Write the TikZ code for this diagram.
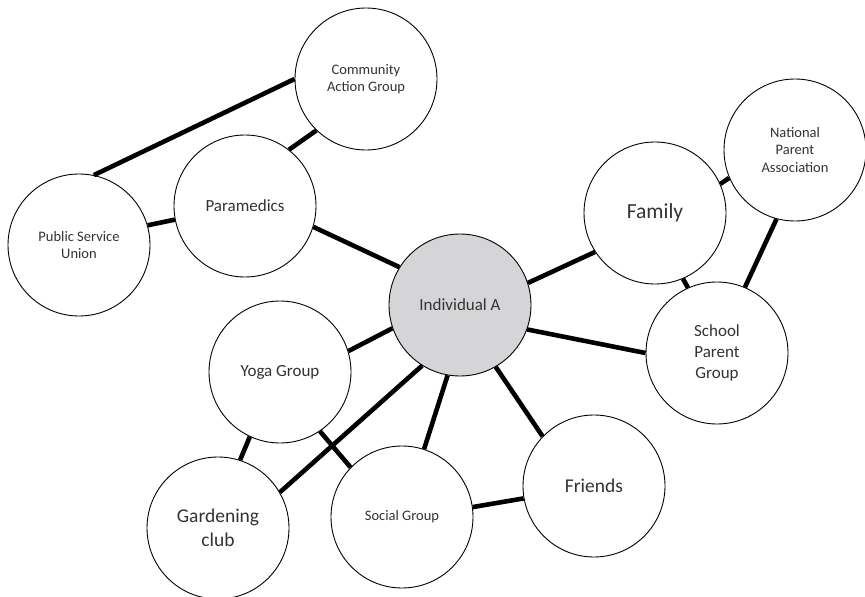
\documentclass[tikz,border=0pt]{standalone}
\usepackage{fontspec}
\setmainfont{Carlito}
\usepackage{xcolor}
\usepackage{tikz}
\usetikzlibrary{shapes.geometric, calc}

\definecolor{centergray}{HTML}{D5D5D7}
\definecolor{textgray}{HTML}{333333}

\begin{document}
\begin{tikzpicture}[
  x=1pt, y=-1pt,
  grp/.style={draw, circle, minimum size=142pt, inner sep=0pt,
              line width=0.9pt, fill=white, align=center,
              text=textgray},
  small/.style={font=\fontsize{14.5}{17.5}\selectfont},
  mid/.style={font=\fontsize{17}{21}\selectfont},
  big/.style={font=\fontsize{19.5}{23.5}\selectfont},
  link/.style={line width=4.6pt}
]
\useasboundingbox (0,0) rectangle (865,597);

% Centre
\node[grp, mid, fill=centergray] (ind) at (460,305) {Individual A};

% Work side
\node[grp, small] (cag) at (366,79) {Community\\Action Group};
\node[grp, mid] (para) at (245,206) {Paramedics};
\node[grp, small] (psu) at (79,245) {Public Service\\Union};

% Family side
\node[grp, font=\fontsize{21.5}{26}\selectfont] (fam) at (655,213) {Family};
\node[grp, small] (npa) at (795,150) {National\\Parent\\Association};
\node[grp, mid] (spg) at (717,353) {School\\Parent\\Group};

% Leisure side
\node[grp, mid] (yoga) at (280,372) {Yoga Group};
\node[grp, big] (gard) at (218,528) {Gardening\\club};
\node[grp, small] (soc) at (402,517) {Social Group};
\node[grp, big] (fri) at (594,486) {Friends};

% Links
\draw[link] (cag.180) -- (psu.78);
\draw[link] (cag.226) -- (para.52);
\draw[link] (psu.16) -- (para.191);
\draw[link] (para.343) -- (ind.148);
\draw[link] (ind.18) -- (fam.213);
\draw[link] (fam.24) -- (npa.203);
\draw[link] (fam.293) -- (spg.114);
\draw[link] (npa.255) -- (spg.67);
\draw[link] (ind.340) -- (spg.180);
\draw[link] (ind.199) -- (yoga.17);
\draw[link] (ind.238) -- (gard.30);
\draw[link] (ind.260) -- (soc.72);
\draw[link] (ind.300) -- (fri.136);
\draw[link] (yoga.245) -- (gard.72);
\draw[link] (yoga.304) -- (soc.136);
\draw[link] (soc.8) -- (fri.190);
\end{tikzpicture}
\end{document}
